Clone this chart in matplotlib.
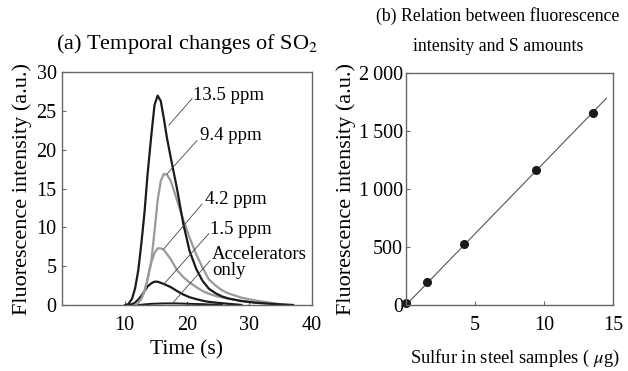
import matplotlib
matplotlib.use("Agg")
import matplotlib.pyplot as plt
from matplotlib.ticker import FuncFormatter

plt.rcParams['font.family'] = ['Liberation Serif', 'DejaVu Serif']
plt.rcParams['mathtext.fontset'] = 'stix'

# (a) temporal changes
t_135 = [10.1, 10.6, 11.2, 11.7, 12.2, 12.7, 13.2, 13.7, 14.3, 14.8, 15.3, 15.8, 16.3,
         16.8, 17.4, 18.4, 19.4, 20.4, 21.5, 22.5, 23.5, 24.6, 25.6, 26.6, 28.7, 30.8,
         32.8, 34.9, 37.0]
v_135 = [0, 0.1, 0.8, 2.2, 4.5, 8, 12, 17, 22, 25.8, 27, 26.3, 24,
         21.5, 19, 15, 10.5, 7.0, 4.6, 3.1, 2.1, 1.5, 1.1, 0.85, 0.5, 0.3,
         0.18, 0.08, 0]

t_94 = [11.7, 12.2, 12.7, 13.2, 13.7, 14.3, 14.8, 15.3, 15.8, 16.3, 16.8, 17.4, 17.9,
        18.4, 19.4, 20.4, 21.5, 22.5, 23.5, 24.6, 25.6, 26.6, 28.7, 30.8, 32.8, 34.5, 36.0]
v_94 = [0, 0.3, 0.8, 1.8, 3.4, 5.8, 9.5, 13.5, 16, 16.9, 16.8, 16, 14.8,
        13.5, 11, 8.7, 6.5, 4.8, 3.3, 2.5, 1.9, 1.5, 0.95, 0.6, 0.35, 0.15, 0]

t_42 = [11.7, 12.2, 12.7, 13.2, 13.7, 14.3, 14.8, 15.3, 15.8, 16.3, 17.4, 18.4, 19.4,
        20.4, 21.5, 22.5, 23.5, 24.6, 26.6, 28.7, 30.8, 32.8, 35.0]
v_42 = [0, 0.3, 0.8, 1.8, 3.4, 5.5, 6.7, 7.3, 7.3, 7.1, 5.9, 4.5, 3.6,
        2.9, 2.3, 1.8, 1.45, 1.15, 0.8, 0.55, 0.35, 0.2, 0]

t_15 = [10.6, 11.2, 11.7, 12.2, 12.7, 13.2, 13.7, 14.3, 14.8, 15.3, 15.8, 16.3, 17.4,
        18.4, 19.4, 20.4, 21.5, 22.5, 23.5, 24.6, 26.6, 28.7]
v_15 = [0, 0.1, 0.3, 0.7, 1.2, 1.8, 2.4, 2.8, 3.0, 3.0, 2.85, 2.7, 2.3,
        1.8, 1.35, 1.0, 0.75, 0.55, 0.4, 0.3, 0.15, 0]

t_acc = [12.2, 14.3, 16.3, 18.4, 20.4, 22.5, 25.6]
v_acc = [0, 0.15, 0.2, 0.2, 0.15, 0.1, 0]

# (b) calibration
sulfur = [0, 1.5, 4.2, 9.4, 13.5]
intensity = [15, 195, 525, 1165, 1660]
fit_x = [0, 14.5]
fit_y = [0, 1785]

BLACK = '#1a1a1a'
GRAY = '#9a9a9a'
FRAME = '#666666'

fig = plt.figure(figsize=(6.28, 3.71), dpi=100)
ax1 = fig.add_axes([0.0990, 0.178, 0.3975, 0.627])
ax2 = fig.add_axes([0.6465, 0.178, 0.3300, 0.624])

for ax in (ax1, ax2):
    for s in ax.spines.values():
        s.set_color(FRAME)
        s.set_linewidth(1.0)
    ax.tick_params(direction='in', length=3, width=0.8, color=FRAME,
                   labelsize=14.5, pad=4)

# left panel
ax1.plot(t_acc, v_acc, color=BLACK, lw=1.4)
ax1.plot(t_15, v_15, color=BLACK, lw=1.6)
ax1.plot(t_42, v_42, color=GRAY, lw=1.6)
ax1.plot(t_94, v_94, color=GRAY, lw=1.6)
ax1.plot(t_135, v_135, color=BLACK, lw=1.6)
ax1.set_xlim(0, 40)
ax1.set_ylim(0, 30)
ax1.set_xticks([10, 20, 30, 40])
ax1.set_yticks([0, 5, 10, 15, 20, 25, 30])
ax1.tick_params(axis='x', pad=8)
ax1.set_xlabel('Time (s)', fontsize=15.5, labelpad=4)
ax1.set_ylabel('Fluorescence intensity (a.u.)', fontsize=16, labelpad=3)
ax1.set_title('(a) Temporal changes of SO$_2$', fontsize=16, pad=17)

labels = ['13.5 ppm', '9.4 ppm', '4.2 ppm', '1.5 ppm', 'Accelerators\nonly']
text_xy = [(21.0, 27.0), (22.1, 21.9), (22.9, 13.6), (23.7, 9.7), (24.0, 5.5)]
start_xy = [(20.8, 26.6), (21.6, 21.2), (22.4, 13.0), (23.5, 9.2), (23.7, 5.7)]
tip_xy = [(17.1, 23.2), (16.8, 16.9), (16.3, 7.25), (16.3, 2.7), (17.6, 0.15)]
for lab, txy in zip(labels, text_xy):
    ax1.text(txy[0], txy[1], lab, fontsize=13.5, ha='left', va='center',
             linespacing=0.9)
for (x0, y0), (x1, y1) in zip(start_xy, tip_xy):
    ax1.plot([x0, x1], [y0, y1], color='#444444', lw=0.6)

# right panel
ax2.plot(fit_x, fit_y, color='#555555', lw=0.8)
ax2.plot(sulfur, intensity, 'o', color=BLACK, ms=5.5, clip_on=False)
ax2.set_xlim(0, 15)
ax2.set_ylim(0, 2000)
ax2.set_xticks([5, 10, 15])
ax2.set_yticks([0, 500, 1000, 1500, 2000])
ax2.yaxis.set_major_formatter(FuncFormatter(lambda v, p: f'{int(v):,}'.replace(',', '\u2009')))
ax2.tick_params(axis='x', pad=8)
ax2.tick_params(axis='y', pad=2)
ax2.set_ylabel('Fluorescence intensity (a.u.)', fontsize=16, labelpad=2)
fig.text(515 / 628, 1 - 358 / 371, 'Sulfur in steel samples ( $\\mu$g)',
         fontsize=13.3, ha='center', va='center')
fig.text(498 / 628, 1 - 31.5 / 371, '(b) Relation between fluorescence\nintensity and S amounts',
         fontsize=12.8, ha='center', va='center', linespacing=2.0)

fig.savefig('out.png', dpi=100)
